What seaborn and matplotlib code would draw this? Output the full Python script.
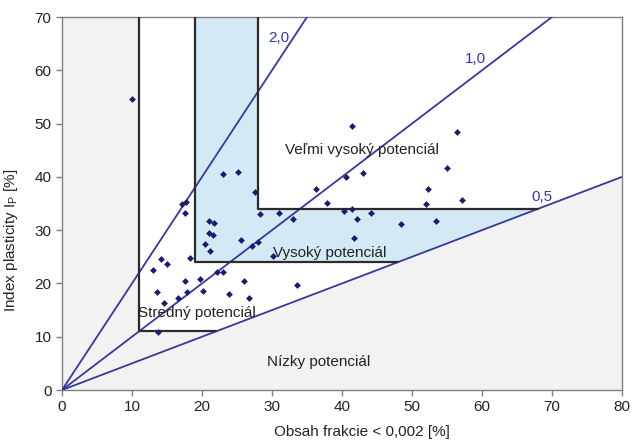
import matplotlib
matplotlib.use("Agg")
import matplotlib.pyplot as plt
import seaborn as sns
import pandas as pd
import numpy as np

# ---- data ----
clay = [10.0, 17.1, 17.7, 17.6, 21.0, 21.7, 21.0, 21.6, 20.4, 21.1, 14.1, 15.0, 13.0, 18.3,
        23.0, 25.1, 27.6, 28.3, 31.0, 33.0, 36.3, 37.9, 40.6, 41.5, 43.0, 40.3, 41.5, 44.2,
        42.1, 48.4, 53.4, 41.7, 52.3, 52.0, 57.1, 55.0, 56.5, 25.5, 27.1, 28.0, 30.1, 22.2,
        23.0, 17.5, 19.7, 26.0, 33.5, 13.6, 17.8, 20.2, 23.9, 26.7, 14.6, 16.6, 13.7]
ip = [54.6, 34.9, 35.3, 33.3, 31.7, 31.4, 29.5, 29.0, 27.4, 26.1, 24.6, 23.6, 22.6, 24.8,
      40.5, 40.9, 37.2, 33.0, 33.2, 32.0, 37.8, 35.1, 40.0, 49.6, 40.7, 33.6, 34.0, 33.3,
      32.1, 31.2, 31.7, 28.5, 37.7, 35.0, 35.6, 41.7, 48.5, 28.1, 27.0, 27.7, 25.2, 22.2,
      22.2, 20.5, 20.8, 20.4, 19.7, 18.4, 18.3, 18.6, 18.1, 17.2, 16.3, 17.2, 10.8]

activity = [2.0, 1.0, 0.5]
activity_labels = ["2,0", "1,0", "0,5"]

# zone boundaries (clay %, Ip %)
white_zone_x = [11, 22, 80, 80, 11]
white_zone_y = [11, 11, 40, 70, 70]
blue_zone_x = [19, 48, 68, 28, 28, 19]
blue_zone_y = [24, 24, 34, 34, 70, 70]
box_lines = [([11, 11, 22], [70, 11, 11]),
             ([19, 19, 48], [70, 24, 24]),
             ([28, 28, 68], [70, 34, 34])]

zone_texts = ["Veľmi vysoký potenciál", "Vysoký potenciál", "Stredný potenciál", "Nízky potenciál"]
zone_text_pos = [(42.9, 45.0), (38.3, 25.8), (19.3, 14.5), (36.6, 5.3)]

xticks = [0, 10, 20, 30, 40, 50, 60, 70, 80]
yticks = [0, 10, 20, 30, 40, 50, 60, 70]

# ---- style ----
sns.set_style("ticks")
plt.rcParams['font.family'] = ['Liberation Sans', 'DejaVu Sans']

line_col = "#38389a"
pt_col = "#1c1c6e"

fig = plt.figure(figsize=(6.38, 4.44), dpi=100)
ax = fig.add_axes([0.0972, 0.1216, 0.8777, 0.8401])
ax.set_facecolor("#f2f2f2")

ax.fill(white_zone_x, white_zone_y, color="white", zorder=1, lw=0)
ax.fill(blue_zone_x, blue_zone_y, color="#d3e9f6", zorder=1, lw=0)
for bx, by in box_lines:
    ax.plot(bx, by, color="#2b2b2b", lw=1.6, zorder=4)

lines_df = []
for a in activity:
    xe = min(80.0, 70.0 / a)
    lines_df.append(pd.DataFrame({"x": [0, xe], "y": [0, a * xe], "A": str(a)}))
lines_df = pd.concat(lines_df)
sns.lineplot(data=lines_df, x="x", y="y", units="A", estimator=None, color=line_col,
             lw=1.3, ax=ax, zorder=3, legend=False)

label_pos = [(31.0, 66.0), (59.0, 62.2), (68.6, 36.3)]
for lab, (lx, ly) in zip(activity_labels, label_pos):
    ax.text(lx, ly, lab, color=line_col, fontsize=11, ha="center", va="center", zorder=4)

for t, (tx, ty) in zip(zone_texts, zone_text_pos):
    ax.text(tx, ty, t, color="#222222", fontsize=11, ha="center", va="center", zorder=4)

df = pd.DataFrame({"clay": clay, "ip": ip})
sns.scatterplot(data=df, x="clay", y="ip", marker="D", s=12, color=pt_col,
                edgecolor=pt_col, linewidth=0, ax=ax, zorder=5)

ax.set_xlim(0, 80)
ax.set_ylim(0, 70)
ax.set_xticks(xticks)
ax.set_yticks(yticks)
ax.tick_params(axis="both", colors="#808080", labelcolor="#222222", labelsize=11, length=4, width=1)
for s in ax.spines.values():
    s.set_color("#808080")
    s.set_linewidth(1.0)
ax.set_xlabel("Obsah frakcie < 0,002 [%]", fontsize=11, color="#222222")
ax.set_ylabel("Index plasticity I$_\\mathregular{P}$ [%]", fontsize=11, color="#222222")
ax.xaxis.set_label_coords(0.535, -0.095)
ax.yaxis.set_label_coords(-0.075, 0.40)

fig.savefig("out.png", dpi=100)
